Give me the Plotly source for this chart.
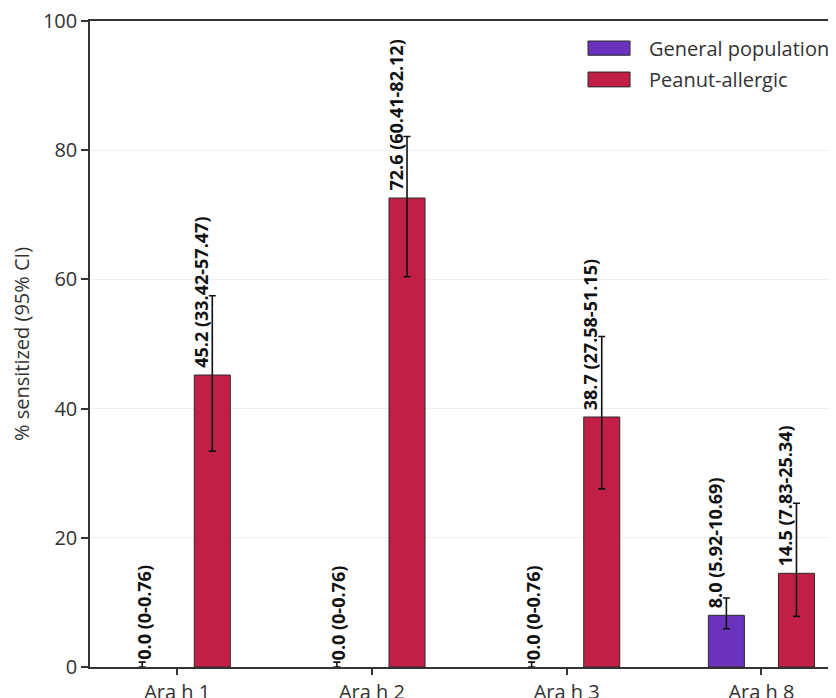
import plotly.graph_objects as go

categories = ["Ara h 1", "Ara h 2", "Ara h 3", "Ara h 8"]
series_names = ["General population", "Peanut-allergic"]
general_pct = [0.0, 0.0, 0.0, 8.0]
general_lo = [0.0, 0.0, 0.0, 5.92]
general_hi = [0.76, 0.76, 0.76, 10.69]
allergic_pct = [45.2, 72.6, 38.7, 14.5]
allergic_lo = [33.42, 60.41, 27.58, 7.83]
allergic_hi = [57.47, 82.12, 51.15, 25.34]
y_ticks = [0, 20, 40, 60, 80, 100]

colors = ["#6b33bd", "#c21f47"]
FONT = "Open Sans"
TXT = "#333333"
bar_w = 0.185
centers = [-0.18, 0.18]

fig = go.Figure()
series = [(general_pct, general_lo, general_hi), (allergic_pct, allergic_lo, allergic_hi)]
for k, (vals, lo, hi) in enumerate(series):
    fig.add_trace(go.Bar(
        x=categories, y=vals, name=series_names[k],
        width=bar_w, offset=centers[k] - bar_w / 2,
        marker=dict(color=colors[k],
                    line=dict(color="#2a2a2a", width=[1 if v > 0 else 0 for v in vals])),
        error_y=dict(type="data", symmetric=False,
                     array=[h - v for h, v in zip(hi, vals)],
                     arrayminus=[v - l for v, l in zip(vals, lo)],
                     color="#111111", thickness=1.6, width=3.5),
        showlegend=False,
    ))
    for i, v in enumerate(vals):
        lbl = f"{v:.1f} ({lo[i]:g}-{hi[i]:.2f})"
        fig.add_annotation(
            x=i + centers[k], y=v, xref="x", yref="y",
            text=f"<b>{lbl}</b>", showarrow=False, textangle=-90,
            xanchor="center", yanchor="bottom",
            xshift=(-12 if v > 0 else 1), yshift=5,
            font=dict(family=FONT, size=18, color="#111111"),
        )

# legend drawn as swatches + text
leg_rows = [(0.969, 0.947, 0.958), (0.921, 0.898, 0.910)]
for k, (y0, y1, yc) in enumerate(leg_rows):
    fig.add_shape(type="rect", xref="paper", yref="paper",
                  x0=0.6676, x1=0.7239, y0=y1, y1=y0,
                  fillcolor=colors[k], line=dict(color="#2a2a2a", width=1))
    fig.add_annotation(xref="paper", yref="paper", x=0.7466, y=yc,
                       xanchor="left", yanchor="middle", showarrow=False,
                       text=series_names[k],
                       font=dict(family=FONT, size=20, color=TXT))

fig.update_layout(
    width=828, height=690,
    margin=dict(l=82, r=0, t=13, b=31),
    plot_bgcolor="white", paper_bgcolor="white",
    barmode="overlay",
    font=dict(family=FONT, size=20, color=TXT),
    xaxis=dict(type="category", categoryorder="array", categoryarray=categories,
               range=[-0.448, 3.383], showline=True, linecolor="#333333", linewidth=1.5,
               mirror=True, ticks="outside", ticklen=6, tickwidth=1.5, tickcolor="#333333",
               showgrid=False, automargin=False, ticklabeloverflow="allow",
               tickfont=dict(family=FONT, size=20, color=TXT)),
    yaxis=dict(range=[0, 100], tickvals=y_ticks, showline=True, linecolor="#333333",
               linewidth=1.5, ticks="outside", ticklen=7, tickwidth=1.5, tickcolor="#333333",
               showgrid=True, gridcolor="#eeeeee", gridwidth=1, zeroline=False,
               automargin=False, ticklabeloverflow="allow",
               title=dict(text="% sensitized (95% CI)", standoff=8,
                          font=dict(family=FONT, size=20, color=TXT)),
               tickfont=dict(family=FONT, size=20, color=TXT)),
)

fig.write_html("out.html")
